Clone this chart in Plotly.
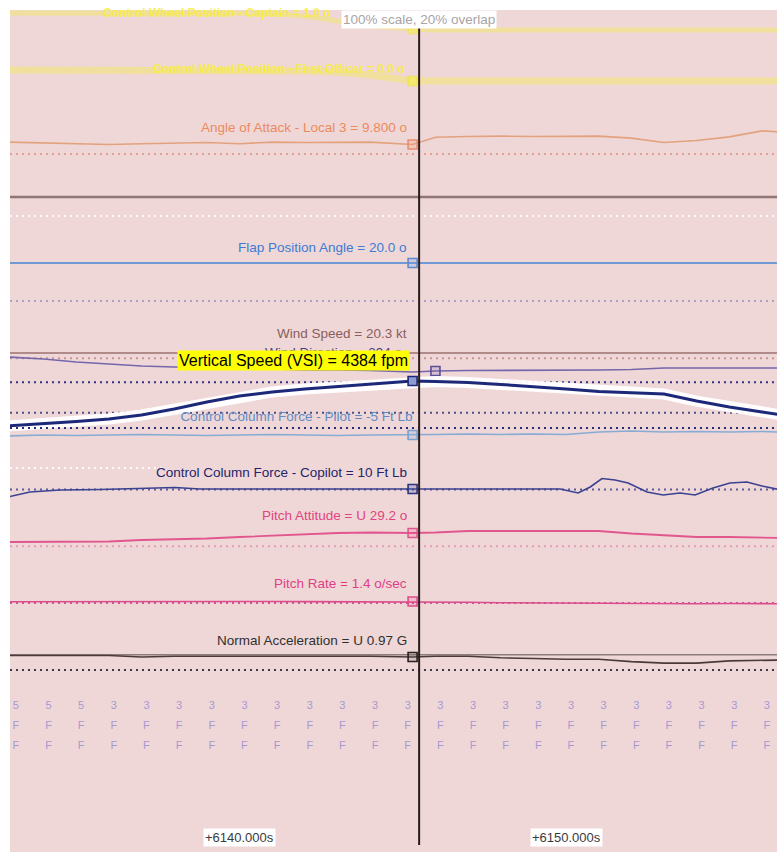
import plotly.graph_objects as go

# ---------------- data ----------------
# common sample times (s) for the continuous channels
TIME_S = [6132.9, 6134.0, 6135.0, 6136.0, 6137.0, 6138.0, 6139.0, 6140.0, 6141.0,
          6142.0, 6143.0, 6144.0, 6145.3, 6146.0, 6147.0, 6148.0, 6149.0, 6150.0,
          6151.0, 6152.0, 6153.0, 6154.0, 6155.0, 6156.0, 6156.6]
CURSOR_T = 6145.5
CURSOR_IDX = 12          # sample read out under the cursor
TICK_T = [6140.0, 6150.0]

CWP_CAPT_DEG = [17, 17, 17, 17, 17, 17, 17, 17, 16.5, 14, 9, 4, 1.0, 0, 0, 0, 0, 0,
                0, 0, 0, 0, 0, 0, 0]
CWP_FO_DEG = [11, 11, 11, 11, 11, 11, 11, 11, 10.5, 10, 9, 6, 0.0, 0, 0, 0, 0, 0,
              0, 0, 0, 0, 0, 0, 0]
AOA_DEG = [10.4, 10.2, 9.9, 9.8, 10.0, 10.2, 10.3, 10.0, 10.4, 10.3, 10.3, 10.4, 9.8,
           11.6, 11.8, 11.9, 11.8, 11.8, 11.9, 11.4, 10.3, 10.8, 11.7, 13.2, 12.9]
FLAP_DEG = [20.0, 20.0, 20.0, 20.0, 20.0, 20.0, 20.0, 20.0, 20.0, 20.0, 20.0, 20.0, 20.0,
            20.0, 20.0, 20.0, 20.0, 20.0, 20.0, 20.0, 20.0, 20.0, 20.0, 20.0, 20.0]
WSPD_KT = [20.3, 20.3, 20.3, 20.3, 20.3, 20.3, 20.3, 20.3, 20.3, 20.3, 20.3, 20.3, 20.3,
           20.3, 20.3, 20.3, 20.3, 20.3, 20.3, 20.3, 20.3, 20.3, 20.3, 20.3, 20.3]
WDIR_DEG = [322, 318, 312, 308, 304, 302, 300, 298, 298, 296, 296, 295, 292, 294, 295,
            295, 295, 295, 296, 297, 300, 300, 300, 300, 300]
VSI_FPM = [1570, 1700, 1850, 2010, 2260, 2630, 3070, 3450, 3700, 3880, 4040, 4200, 4384,
           4350, 4290, 4170, 4040, 3880, 3730, 3630, 3570, 3130, 2760, 2450, 2260]
CCFP_LB = [-5.7, -5.0, -5.4, -5.0, -4.6, -5.0, -5.4, -5.0, -4.6, -5.0, -5.4, -5.0, -5.0,
           -4.6, -4.3, -4.6, -4.3, -4.6, -2.9, -2.1, -2.9, -2.5, -2.9, -2.5, -2.9]
PITCH_DEG = [20.2, 20.2, 20.2, 20.7, 22.2, 22.7, 23.7, 25.2, 26.7, 28.2, 29.2, 29.7, 29.2,
             29.7, 31.2, 31.2, 31.2, 31.2, 31.2, 28.7, 26.7, 25.2, 25.2, 24.7, 24.2]
PRATE_DPS = [1.2, 1.3, 1.2, 1.6, 1.5, 1.6, 1.4, 1.5, 1.4, 1.3, 1.2, 1.1, 1.4, 1.0, 0.6,
             0.2, 0.0, 0.0, -0.4, -1.0, -1.3, -0.9, -0.6, -0.6, -0.8]
NZ_G = [0.99, 0.99, 0.99, 0.99, 0.97, 0.98, 0.98, 0.98, 0.98, 0.98, 0.98, 0.98, 0.97,
        0.98, 0.98, 0.96, 0.95, 0.94, 0.94, 0.91, 0.89, 0.89, 0.92, 0.93, 0.93]

# copilot column force is sampled faster
CCFC_T = [6132.9, 6133.58, 6134.5, 6135.73, 6138.02, 6138.79, 6141.85, 6145.3, 6147.98,
          6149.82, 6150.37, 6150.74, 6151.1, 6151.5, 6151.9, 6152.48, 6152.97, 6153.49,
          6153.95, 6154.5, 6155.02, 6155.54, 6156.0, 6156.6]
CCFC_LB = [2, 7, 9, 9.5, 11.5, 10, 10, 10, 10.5, 10, 6, 12, 20.5, 19, 16, 7, 4, 6, 4,
           11, 16, 17, 13, 9]
CCFC_IDX = 7

# discrete parameters, one sample per second
DISC_T = [6133.15, 6134.15, 6135.15, 6136.15, 6137.15, 6138.15, 6139.15, 6140.15,
          6141.15, 6142.15, 6143.15, 6144.15, 6145.15, 6146.15, 6147.15, 6148.15,
          6149.15, 6150.15, 6151.15, 6152.15, 6153.15, 6154.15, 6155.15, 6156.15]
DISC_A = ["5", "5", "5", "3", "3", "3", "3", "3", "3", "3", "3", "3",
          "3", "3", "3", "3", "3", "3", "3", "3", "3", "3", "3", "3"]
DISC_B = ["F", "F", "F", "F", "F", "F", "F", "F", "F", "F", "F", "F",
          "F", "F", "F", "F", "F", "F", "F", "F", "F", "F", "F", "F"]
DISC_C = ["F", "F", "F", "F", "F", "F", "F", "F", "F", "F", "F", "F",
          "F", "F", "F", "F", "F", "F", "F", "F", "F", "F", "F", "F"]

# ---------------- layout helpers ----------------
W, H = 777, 852
PLOT_TOP, PLOT_BOTTOM = 10, 852
X_RANGE = [6132.97, 6156.46]
FONT = "Liberation Sans, Arial, sans-serif"
BG = "#efd7d7"
LABEL_SIZE = 13.5
YELLOW_LINE = "rgba(242,228,120,0.6)"
YELLOW_TEXT = "rgba(247,238,60,0.85)"


def frac(px):
    """screen row -> paper fraction"""
    return (PLOT_BOTTOM - px) / (PLOT_BOTTOM - PLOT_TOP)


def lane_range(v_ref, px_ref, px_per_unit):
    """axis range that puts v_ref on screen row px_ref with the given gain"""
    return [v_ref - (PLOT_BOTTOM - px_ref) / px_per_unit,
            v_ref + (px_ref - PLOT_TOP) / px_per_unit]


# lane = (reference value, screen row, pixels per unit)
CHANNELS = [
    dict(name="Control Wheel Position - Captain", unit="o", fmt="{:.1f}",
         t=TIME_S, v=CWP_CAPT_DEG, mark=CURSOR_IDX, lane=(0.0, 30, 1.0),
         color=YELLOW_LINE, width=5, lcolor=YELLOW_TEXT,
         dy=16, dx=-80, mfill="rgba(246,238,80,0.5)", mline="rgba(240,226,80,0.7)", guides=[]),
    dict(name="Control Wheel Position - First Officer", unit="o", fmt="{:.1f}",
         t=TIME_S, v=CWP_FO_DEG, mark=CURSOR_IDX, lane=(0.0, 81, 1.0),
         color=YELLOW_LINE, width=7, lcolor=YELLOW_TEXT,
         dy=12, dx=-6, mfill="rgba(246,238,80,0.6)", mline="rgba(240,226,80,0.8)", guides=[]),
    dict(name="Angle of Attack - Local 3", unit="o", fmt="{:.3f}",
         t=TIME_S, v=AOA_DEG, mark=CURSOR_IDX, lane=(9.8, 144.5, 4.0),
         color="#e3a27e", width=1.6, lcolor="#ec8a5c", dy=17, dx=-4,
         mfill="rgba(236,150,110,0.25)", mline="#e89070",
         guides=[(7.4, "#e8a08c", "dot")]),
    dict(name="Flap Position Angle", unit="o", fmt="{:.1f}",
         t=TIME_S, v=FLAP_DEG, mark=CURSOR_IDX, lane=(20.0, 263, 1.9),
         color="#6f9ad6", width=2, lcolor="#3d7bd4", dy=16, dx=-4,
         mfill="rgba(110,150,215,0.25)", mline="#5a8ad0",
         guides=[(0.0, "#aaa3c6", "dot")]),
    dict(name="Wind Speed", unit="kt", fmt="{:.1f}",
         t=TIME_S, v=WSPD_KT, mark=CURSOR_IDX, lane=(20.3, 353, 1.0),
         color="#9c7070", width=1.6, lcolor="#8a5e5e", dy=20, dx=-4,
         mfill=None, mline=None,
         guides=[(15.0, "#c99494", "dot")]),
    dict(name="Wind Direction", unit="o", fmt="{:.0f}",
         t=TIME_S, v=WDIR_DEG, mark=13, lane=(294, 371, 0.5),
         color="#7466aa", width=1.6, lcolor="#4c3e84", dy=19, dx=-31,
         mfill="rgba(120,105,170,0.2)", mline="#5c4e98", guides=[]),
    dict(name="Vertical Speed (VSI)", unit="fpm", fmt="{:.0f}",
         t=TIME_S, v=VSI_FPM, mark=CURSOR_IDX, lane=(4384, 381, 0.016),
         color="#1c2878", width=3, lcolor="#000000", dy=21, dx=-3,
         mfill="#8d9bd2", mline="#1c2878",
         guides=[(4300, "#2a3480", "dot"), (2400, "#4a4f80", "dot")]),
    dict(name="Control Column Force - Pilot", unit="Ft Lb", fmt="{:.0f}",
         t=TIME_S, v=CCFP_LB, mark=CURSOR_IDX, lane=(-5.0, 435, 1.4),
         color="#86acd6", width=1.6, lcolor="#5f8cc6", dy=17, dx=-2,
         mfill="rgba(130,170,215,0.25)", mline="#7aa2d0",
         guides=[(0.0, "#262e78", "dot")]),
    dict(name="Control Column Force - Copilot", unit="Ft Lb", fmt="{:.0f}",
         t=CCFC_T, v=CCFC_LB, mark=CCFC_IDX, lane=(10.0, 489, 1.0),
         color="#3b4290", width=1.6, lcolor="#24246a", dy=17, dx=-4,
         mfill="rgba(70,80,160,0.25)", mline="#2c3488",
         guides=[(9.5, "#5a5c9c", "dot")]),
    dict(name="Pitch Attitude", unit="o", fmt="U {:.1f}",
         t=TIME_S, v=PITCH_DEG, mark=CURSOR_IDX, lane=(29.2, 533, 1.0),
         color="#e2568e", width=1.8, lcolor="#e2447f", dy=18, dx=-4,
         mfill="rgba(230,90,140,0.2)", mline="#e2568e",
         guides=[(16.0, "#e79ab9", "dot")]),
    dict(name="Pitch Rate", unit="o/sec", fmt="{:.1f}",
         t=TIME_S, v=PRATE_DPS, mark=CURSOR_IDX, lane=(1.4, 601.5, 1.0),
         color="#dc4c8c", width=1.6, lcolor="#e03e86", dy=18, dx=-4,
         mfill="rgba(225,80,140,0.2)", mline="#dc4c8c",
         guides=[(0.0, "#c85a8e", "dot")]),
    dict(name="Normal Acceleration", unit="G", fmt="U {:.2f}",
         t=TIME_S, v=NZ_G, mark=CURSOR_IDX, lane=(0.97, 657, 76.5),
         color="#4c3a3a", width=1.6, lcolor="#303030", dy=17, dx=-4,
         mfill="rgba(80,60,60,0.15)", mline="#2a2020",
         guides=[(1.0, "#8e7d7d", "solid"), (0.8, "#383848", "dot")]),
]
DISC_LANE = (3.0, 706, 20.0)      # row 3 at top, 20 px per row

fig = go.Figure()
layout_axes = {}
annotations = []


def axis_name(i):
    return "y%d" % (i + 2), "yaxis%d" % (i + 2)


# lane guide lines
for i, ch in enumerate(CHANNELS):
    yref, ykey = axis_name(i)
    layout_axes[ykey] = dict(overlaying="y", range=lane_range(*ch["lane"]),
                             visible=False, fixedrange=True)
    for gv, gc, gd in ch["guides"]:
        fig.add_trace(go.Scatter(
            x=X_RANGE, y=[gv, gv], yaxis=yref, mode="lines", hoverinfo="skip",
            line=dict(color=gc, width=2 if gd == "dot" else 1.6,
                      dash="2px,4px" if gd == "dot" else "solid")))

# channel traces (VSI last so its halo sits over neighbouring text)
names = [c["name"] for c in CHANNELS]
vsi_i = names.index("Vertical Speed (VSI)")
pilot_i = names.index("Control Column Force - Pilot")

for i, ch in enumerate(CHANNELS):
    if i == vsi_i:
        continue
    yref, _ = axis_name(i)
    fig.add_trace(go.Scatter(x=ch["t"], y=ch["v"], yaxis=yref, mode="lines",
                             hoverinfo="skip",
                             line=dict(color=ch["color"], width=ch["width"])))

# pilot column force label is drawn as a text trace so the VSI halo can cover it
pch = CHANNELS[pilot_i]
pm = pch["mark"]
fig.add_trace(go.Scatter(
    x=[pch["t"][pm]], y=[pch["v"][pm] + pch["dy"] / pch["lane"][2]],
    yaxis=axis_name(pilot_i)[0], mode="text", textposition="middle left",
    text=["%s = %s %s" % (pch["name"], pch["fmt"].format(pch["v"][pm]), pch["unit"])],
    textfont=dict(family=FONT, size=LABEL_SIZE, color=pch["lcolor"]), hoverinfo="skip"))

vch = CHANNELS[vsi_i]
vref = axis_name(vsi_i)[0]
fig.add_trace(go.Scatter(x=vch["t"], y=vch["v"], yaxis=vref, mode="lines",
                         hoverinfo="skip",
                         line=dict(color="rgba(255,255,255,0.95)", width=11)))
fig.add_trace(go.Scatter(x=vch["t"], y=vch["v"], yaxis=vref, mode="lines",
                         hoverinfo="skip", line=dict(color=vch["color"], width=3)))

# cursor read-out markers
for i, ch in enumerate(CHANNELS):
    if ch["mfill"] is None:
        continue
    m = ch["mark"]
    fig.add_trace(go.Scatter(
        x=[ch["t"][m]], y=[ch["v"][m]], yaxis=axis_name(i)[0], mode="markers",
        hoverinfo="skip",
        marker=dict(symbol="square", size=9, color=ch["mfill"],
                    line=dict(color=ch["mline"], width=1.6))))

# discrete rows
layout_axes["yaxis%d" % (len(CHANNELS) + 2)] = dict(
    overlaying="y", range=lane_range(*DISC_LANE), visible=False, fixedrange=True)
dref = "y%d" % (len(CHANNELS) + 2)
for row, vals in zip([3, 2, 1], [DISC_A, DISC_B, DISC_C]):
    fig.add_trace(go.Scatter(
        x=DISC_T, y=[row] * len(DISC_T), yaxis=dref, mode="text", text=vals,
        textposition="middle center", hoverinfo="skip",
        textfont=dict(family=FONT, size=11, color="#a898d2")))

# channel labels (name = value at cursor)
for i, ch in enumerate(CHANNELS):
    if i in (pilot_i, vsi_i):
        continue
    m = ch["mark"]
    bold = "Control Wheel" in ch["name"]
    txt = "%s = %s %s" % (ch["name"], ch["fmt"].format(ch["v"][m]), ch["unit"])
    annotations.append(dict(
        x=ch["t"][m], y=ch["v"][m], xref="x", yref=axis_name(i)[0],
        text="<b>%s</b>" % txt if bold else txt, showarrow=False,
        xanchor="right", yanchor="middle", xshift=ch["dx"], yshift=ch["dy"],
        font=dict(family=FONT, size=12 if bold else LABEL_SIZE, color=ch["lcolor"])))

# highlighted VSI read-out
vm = vch["mark"]
annotations.append(dict(
    x=vch["t"][vm], y=vch["v"][vm], xref="x", yref=vref,
    text="%s = %s %s" % (vch["name"], vch["fmt"].format(vch["v"][vm]), vch["unit"]),
    showarrow=False, xanchor="right", yanchor="middle", xshift=vch["dx"],
    yshift=vch["dy"], bgcolor="#ffff00", borderpad=1,
    font=dict(family=FONT, size=16, color="#000000")))

# scale note centred on the cursor
annotations.append(dict(
    x=CURSOR_T, y=1.0, xref="x", yref="paper", text="100% scale, 20% overlap",
    showarrow=False, xanchor="center", yanchor="top", bgcolor="#ffffff",
    borderpad=1, font=dict(family=FONT, size=13.5, color="#a9a4a4")))

# time tick labels
for tt in TICK_T:
    annotations.append(dict(
        x=tt, y=frac(837), xref="x", yref="paper", text="+%.3fs" % tt,
        showarrow=False, xanchor="center", yanchor="middle", bgcolor="#ffffff",
        borderpad=1, font=dict(family=FONT, size=13, color="#3a3a3a")))

shapes = [
    # chart background (drawn as a shape so every overlaid lane stays visible)
    dict(type="rect", xref="paper", yref="paper", x0=0, x1=1, y0=0, y1=1,
         fillcolor=BG, line=dict(width=0), layer="below"),
    # lane separator and faint lane dividers
    dict(type="line", xref="paper", yref="paper", x0=0, x1=1, y0=frac(197), y1=frac(197),
         line=dict(color="#8f7575", width=2.5), layer="below"),
    dict(type="line", xref="paper", yref="paper", x0=0, x1=1, y0=frac(216), y1=frac(216),
         line=dict(color="rgba(255,255,255,0.85)", width=2, dash="2px,4px"), layer="below"),
    dict(type="line", xref="paper", yref="paper", x0=0, x1=0.2, y0=frac(468), y1=frac(468),
         line=dict(color="rgba(255,255,255,0.85)", width=2, dash="2px,4px"), layer="below"),
    # time cursor
    dict(type="line", xref="x", yref="paper", x0=CURSOR_T, x1=CURSOR_T,
         y0=frac(845), y1=frac(24), line=dict(color="#2a1a1a", width=2)),
]

fig.update_layout(
    width=W, height=H, showlegend=False,
    margin=dict(l=10, r=0, t=PLOT_TOP, b=H - PLOT_BOTTOM, pad=0),
    paper_bgcolor="#ffffff", plot_bgcolor="rgba(0,0,0,0)",
    xaxis=dict(range=X_RANGE, visible=False, fixedrange=True),
    yaxis=dict(range=[0, 1], visible=False, fixedrange=True),
    annotations=annotations, shapes=shapes,
    **layout_axes,
)

fig.write_html("out.html")
